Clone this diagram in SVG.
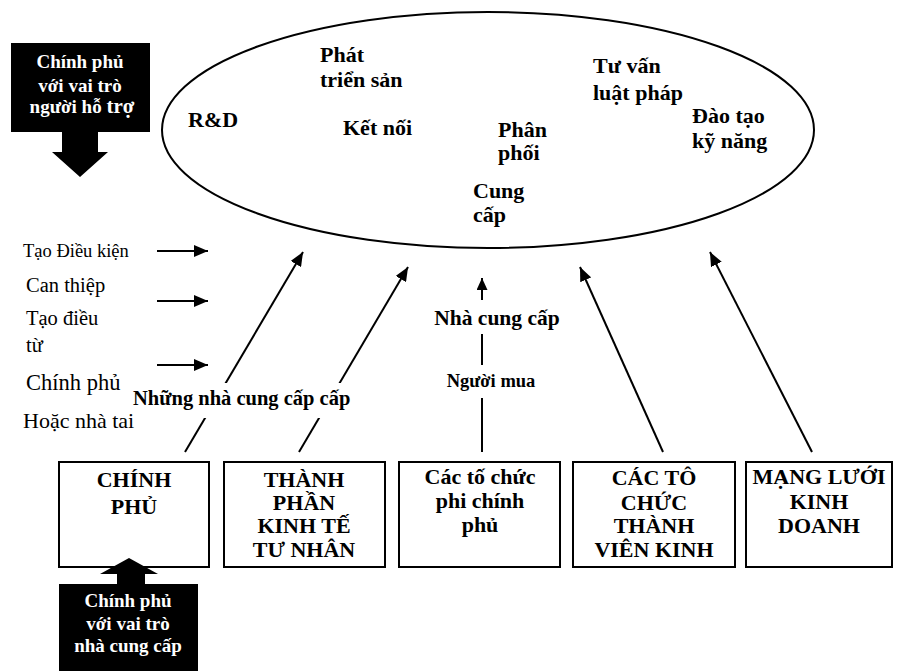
<svg xmlns="http://www.w3.org/2000/svg" width="909" height="671" viewBox="0 0 909 671">
<style>
.b{font-family:"Liberation Serif","Times New Roman",serif;font-weight:bold;fill:#000}
.r{font-family:"Liberation Serif","Times New Roman",serif;fill:#000}
.w{font-family:"Liberation Serif","Times New Roman",serif;font-weight:bold;fill:#fff;font-size:19px;text-anchor:middle}
.box{fill:#fff;stroke:#000;stroke-width:2}
.ln{stroke:#000;stroke-width:2;fill:none}
.mid{text-anchor:middle}
.bx{font-size:22px}
</style>
<defs>
<marker id="ah" viewBox="0 0 14 12" refX="14" refY="6" markerWidth="14" markerHeight="12" orient="auto" markerUnits="userSpaceOnUse">
<path d="M0,0 L14,6 L0,12 z" fill="#000"/>
</marker>
<marker id="ahs" viewBox="0 0 12 11" refX="12" refY="5.5" markerWidth="12" markerHeight="11" orient="auto" markerUnits="userSpaceOnUse">
<path d="M0,0 L12,5.5 L0,11 z" fill="#000"/>
</marker>
</defs>
<rect width="909" height="671" fill="#fff"/>

<g id="ellipse">
<ellipse cx="488" cy="130" rx="326" ry="118" fill="#fff" stroke="#000" stroke-width="2"/>
<g class="b" font-size="22">
<text x="320" y="62">Phát</text>
<text x="320" y="87">triển sản</text>
<text x="188" y="127">R&amp;D</text>
<text x="343" y="135">Kết nối</text>
<text x="498" y="137">Phân</text>
<text x="498" y="160">phối</text>
<text x="473" y="198">Cung</text>
<text x="473" y="222">cấp</text>
<text x="593" y="73">Tư vấn</text>
<text x="593" y="100">luật pháp</text>
<text x="692" y="123">Đào tạo</text>
<text x="692" y="148">kỹ năng</text>
</g>
</g>

<g id="callout-top">
<rect x="11" y="43" width="139" height="89" fill="#000"/>
<path d="M62,132 L98,132 L98,152 L108,152 L80,177 L52,152 L62,152 z" fill="#000"/>
<text class="w" x="80" y="68">Chính phủ</text>
<text class="w" x="80" y="92">với vai trò</text>
<text class="w" x="82" y="113">người hỗ <tspan font-size="21">trợ</tspan></text>
</g>

<g id="left-labels" class="r">
<text x="23" y="257" font-size="18.5">Tạo Điều kiện</text>
<text x="26" y="292" font-size="20.5">Can thiệp</text>
<text x="26" y="325" font-size="20.5">Tạo điều</text>
<text x="26" y="352" font-size="20.5">từ</text>
<text x="26" y="390" font-size="22.5">Chính phủ</text>
<text x="23" y="428" font-size="22">Hoặc nhà tai</text>
</g>

<g id="connectors">
<line class="ln" x1="157" y1="251" x2="208" y2="251" marker-end="url(#ah)"/>
<line class="ln" x1="157" y1="301" x2="208" y2="301" marker-end="url(#ah)"/>
<line class="ln" x1="157" y1="365" x2="208" y2="365" marker-end="url(#ah)"/>
<line class="ln" x1="185" y1="452" x2="303" y2="252" marker-end="url(#ah)"/>
<line class="ln" x1="299" y1="452" x2="408" y2="267" marker-end="url(#ah)"/>
<line class="ln" x1="482" y1="452" x2="482" y2="278" marker-end="url(#ahs)"/>
<line class="ln" x1="663" y1="452" x2="580" y2="267" marker-end="url(#ah)"/>
<line class="ln" x1="812" y1="452" x2="710" y2="252" marker-end="url(#ah)"/>
</g>

<g id="label-nhung">
<rect x="140" y="383" width="215" height="35" fill="#fff"/>
<text class="b" x="133" y="405" font-size="20.5">Những nhà cung cấp cấp</text>
</g>
<g id="label-nhacungcap">
<rect x="430" y="300" width="135" height="34" fill="#fff"/>
<text class="b mid" x="497" y="325" font-size="21.5">Nhà cung cấp</text>
</g>
<g id="label-nguoimua">
<rect x="445" y="365" width="92" height="33" fill="#fff"/>
<text class="b mid" x="491" y="387" font-size="18.5">Người mua</text>
</g>

<g id="box-chinhphu">
<rect class="box" x="59" y="462" width="150" height="105"/>
<text class="b mid bx" x="134" y="487">CHÍNH</text>
<text class="b mid bx" x="134" y="514">PHỦ</text>
</g>
<g id="box-tunhan">
<rect class="box" x="224" y="462" width="161" height="105"/>
<text class="b mid bx" x="304" y="487">THÀNH</text>
<text class="b mid bx" x="304" y="510">PHẦN</text>
<text class="b mid bx" x="304" y="533">KINH TẾ</text>
<text class="b mid bx" x="304" y="557">TƯ NHÂN</text>
</g>
<g id="box-phichinhphu">
<rect class="box" x="399" y="462" width="161" height="105"/>
<text class="b mid bx" x="480" y="484">Các tố chức</text>
<text class="b mid bx" x="480" y="508">phi chính</text>
<text class="b mid bx" x="480" y="532">phủ</text>
</g>
<g id="box-thanhvien">
<rect class="box" x="573" y="462" width="162" height="105"/>
<text class="b mid bx" x="654" y="485">CÁC TÔ</text>
<text class="b mid bx" x="654" y="510">CHỨC</text>
<text class="b mid bx" x="654" y="533">THÀNH</text>
<text class="b mid bx" x="654" y="557">VIÊN KINH</text>
</g>
<g id="box-mangluoi">
<rect class="box" x="746" y="462" width="146" height="105"/>
<text class="b mid bx" x="819" y="484">MẠNG LƯỚI</text>
<text class="b mid bx" x="819" y="509">KINH</text>
<text class="b mid bx" x="819" y="533">DOANH</text>
</g>

<g id="callout-bottom">
<rect x="59" y="584" width="139" height="87" fill="#000"/>
<path d="M117,585 L117,574 L100,574 L129,558 L158,574 L145,574 L145,585 z" fill="#000"/>
<text class="w" x="128" y="607">Chính phủ</text>
<text class="w" x="128" y="630">với vai trò</text>
<text class="w" x="128" y="652">nhà cung cấp</text>
</g>
</svg>
